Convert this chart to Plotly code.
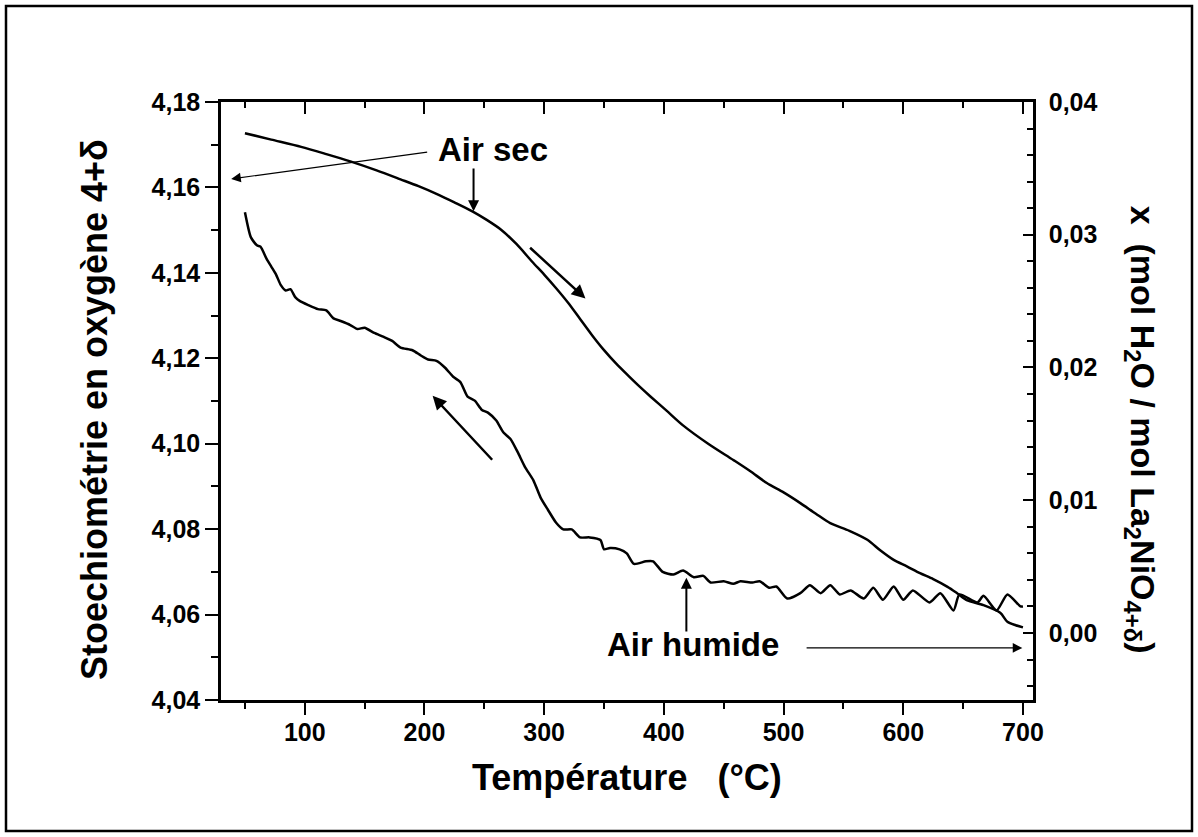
import plotly.graph_objects as go

# ---------------- data ----------------
# Air sec : oxygen stoichiometry 4+delta (left axis) vs temperature
T_sec = [50, 72, 97, 118, 138, 160, 180, 195, 210, 225, 240, 252, 264, 277, 290, 300,
         310, 320, 330, 340, 350, 360, 370, 380, 389, 402, 416, 437, 458, 472, 486,
         500, 514, 527, 539, 555, 570, 581, 592, 603, 614, 625, 637, 645, 653, 667,
         681, 687, 694, 700]
delta_sec = [4.1727, 4.1712, 4.1695, 4.1678, 4.1661, 4.1640, 4.1619, 4.1603, 4.1585,
             4.1565, 4.1544, 4.1524, 4.1501, 4.1467, 4.1426, 4.1396, 4.1364, 4.1330,
             4.1292, 4.1254, 4.1219, 4.1188, 4.1160, 4.1133, 4.1110, 4.1078, 4.1043,
             4.1000, 4.0962, 4.0936, 4.0908, 4.0886, 4.0861, 4.0836, 4.0814, 4.0796,
             4.0775, 4.0750, 4.0728, 4.0713, 4.0697, 4.0683, 4.0665, 4.0650, 4.0634,
             4.0622, 4.0604, 4.0583, 4.0575, 4.0570]

# Air humide : x (mol H2O / mol La2NiO4+delta) (right axis) vs temperature
T_hum = [50, 55, 60, 63, 68, 72, 76, 80, 84, 88, 92, 96, 103, 111, 118, 124, 130, 138,
         144, 150, 158, 166, 173, 180, 190, 197, 203, 210, 217, 224, 230, 236, 242, 248,
         253, 260, 266, 272, 278, 284, 291, 297, 303, 310, 316, 323, 330, 338, 347, 350,
         355, 363, 369, 375, 385, 391, 399, 408, 416, 425, 433, 439, 450, 458, 464, 474,
         480, 488, 494, 503, 514, 522, 531, 539, 547, 556, 567, 575, 583, 592, 600, 608,
         622, 631, 642, 647, 662, 667, 678, 687, 698, 700]
x_hum = [0.0317, 0.0298, 0.0292, 0.0291, 0.0282, 0.0276, 0.0270, 0.0262, 0.0258, 0.0259,
         0.0253, 0.0250, 0.0247, 0.0244, 0.0243, 0.0237, 0.0235, 0.0232, 0.0229, 0.0230,
         0.0226, 0.0223, 0.0220, 0.0215, 0.0213, 0.0209, 0.0206, 0.0205, 0.0200, 0.0193,
         0.0189, 0.0178, 0.0175, 0.0168, 0.0166, 0.0160, 0.0151, 0.0146, 0.0136, 0.0125,
         0.0115, 0.0102, 0.0093, 0.0083, 0.0078, 0.0078, 0.0072, 0.0072, 0.0070, 0.0063,
         0.0064, 0.0063, 0.0060, 0.0052, 0.0054, 0.0054, 0.0046, 0.0044, 0.0047, 0.0042,
         0.0043, 0.0038, 0.0039, 0.0037, 0.0039, 0.0038, 0.0039, 0.0034, 0.0035, 0.0026,
         0.0030, 0.0036, 0.0030, 0.0036, 0.0029, 0.0032, 0.0026, 0.0034, 0.0025, 0.0035,
         0.0025, 0.0032, 0.0023, 0.0030, 0.0017, 0.0029, 0.0023, 0.0028, 0.0017, 0.0029,
         0.0020, 0.0020]

# axis settings
x_range = [30, 708.4]
y_left_range = [4.04, 4.18]
y_right_range = [-0.00505, 0.04]

FONT = "Liberation Sans, Arial, sans-serif"
BLACK = "#000000"

fig = go.Figure()
fig.add_trace(go.Scatter(x=T_sec, y=delta_sec, mode="lines",
                         line=dict(color=BLACK, width=2.5, shape="spline", smoothing=0.8),
                         xaxis="x", yaxis="y", showlegend=False, hoverinfo="skip"))
fig.add_trace(go.Scatter(x=T_hum, y=x_hum, mode="lines",
                         line=dict(color=BLACK, width=2.5, shape="spline", smoothing=0.6),
                         xaxis="x", yaxis="y2", showlegend=False, hoverinfo="skip"))
# empty trace so that the top (inside-tick) axis is drawn
fig.add_trace(go.Scatter(x=[None], y=[None], xaxis="x2", yaxis="y",
                         showlegend=False, hoverinfo="skip"))

tickfont = dict(family=FONT, size=25, color=BLACK, weight="bold")

fig.update_layout(
    width=1198, height=837,
    margin=dict(l=221, r=165, t=102, b=137),
    paper_bgcolor="white", plot_bgcolor="white",
    separators=", ",
    showlegend=False,
    xaxis=dict(range=x_range, tick0=0, dtick=100, ticks="outside", ticklen=12,
               tickwidth=2, tickcolor=BLACK, showline=True, linewidth=2.5,
               linecolor=BLACK, showgrid=False, zeroline=False, tickfont=tickfont,
               ticklabelstandoff=-4,
               minor=dict(dtick=50, tick0=0, ticks="outside", ticklen=6,
                          tickwidth=2, tickcolor=BLACK, showgrid=False)),
    xaxis2=dict(range=x_range, overlaying="x", side="top", anchor="y",
                tick0=0, dtick=100, ticks="inside", ticklen=12, tickwidth=2,
                tickcolor=BLACK, showline=True, linewidth=2.5, linecolor=BLACK,
                showticklabels=False, showgrid=False, zeroline=False,
                minor=dict(dtick=50, tick0=0, ticks="inside", ticklen=6,
                           tickwidth=2, tickcolor=BLACK, showgrid=False)),
    yaxis=dict(range=y_left_range, tick0=4.04, dtick=0.02, tickformat=".2f",
               ticks="outside", ticklen=13, tickwidth=2, tickcolor=BLACK,
               showline=True, linewidth=2.5, linecolor=BLACK, showgrid=False,
               zeroline=False, tickfont=tickfont,
               minor=dict(dtick=0.01, tick0=4.04, ticks="outside", ticklen=7,
                          tickwidth=2, tickcolor=BLACK, showgrid=False)),
    yaxis2=dict(range=y_right_range, overlaying="y", side="right", anchor="x",
                tick0=0, dtick=0.01, tickformat=".2f", ticks="inside", ticklen=10,
                tickwidth=2, tickcolor=BLACK, showline=True, linewidth=2.5,
                linecolor=BLACK, showgrid=False, zeroline=False, tickfont=tickfont,
                ticklabelstandoff=8,
                minor=dict(dtick=0.002, tick0=0, ticks="inside", ticklen=6,
                           tickwidth=2, tickcolor=BLACK, showgrid=False)),
)

ann_font = dict(family=FONT, size=33, color=BLACK, weight="bold")
title_font = dict(family=FONT, size=36, color=BLACK, weight="bold")
rtitle_font = dict(family=FONT, size=34, color=BLACK, weight="bold")

annotations = [
    # axis titles
    dict(text="Température\u00a0\u00a0\u00a0(°C)", xref="paper", yref="paper",
         x=0.5, y=-0.13, xanchor="center", yanchor="middle", showarrow=False,
         font=title_font),
    dict(text="Stoechiométrie en oxygène 4+δ", xref="paper", yref="paper",
         x=-0.155, y=0.485, xanchor="center", yanchor="middle", textangle=-90,
         showarrow=False, font=title_font),
    dict(text="x\u00a0\u00a0(mol H<sub>2</sub>O / mol La<sub>2</sub>NiO<sub>4+δ</sub>)",
         xref="paper", yref="paper", x=1.1318, y=0.452, xanchor="center",
         yanchor="middle", textangle=90, showarrow=False, font=rtitle_font),
    # labels
    dict(text="Air sec", xref="x", yref="y", x=257, y=4.1688, xanchor="center",
         yanchor="middle", showarrow=False, font=ann_font),
    dict(text="Air humide", xref="x", yref="y", x=424.6, y=4.0529, xanchor="center",
         yanchor="middle", showarrow=False, font=ann_font),
]

# arrows: (tail T, tail y, head T, head y, width)
arrows = [
    (203.5, 4.1683, 38.5, 4.1620, 1.2),   # Air sec -> left axis
    (241.0, 4.1648, 241.0, 4.1544, 2.0),  # Air sec -> curve
    (287.0, 4.1462, 334.5, 4.1340, 2.5),  # heating direction
    (257.7, 4.0959, 206.8, 4.1112, 2.5),  # cooling direction
    (418.8, 4.0557, 418.8, 4.0686, 2.0),  # Air humide -> curve
    (518.0, 4.0522, 699.5, 4.0522, 1.2),  # Air humide -> right axis
]
for tx, ty, hx, hy, w in arrows:
    annotations.append(dict(x=hx, y=hy, ax=tx, ay=ty, xref="x", yref="y",
                            axref="x", ayref="y", text="", showarrow=True,
                            arrowhead=2, arrowsize=1.6 if w < 1.5 else 1.1,
                            arrowwidth=w, arrowcolor=BLACK, standoff=0))
fig.update_layout(annotations=annotations)

# outer frame around the whole figure
fig.add_shape(type="rect", xref="paper", yref="paper",
              x0=(6 - 221) / 812, x1=(1192 - 221) / 812,
              y0=(700 - 831) / 598, y1=(700 - 6) / 598,
              line=dict(color=BLACK, width=2.5), fillcolor="rgba(0,0,0,0)", layer="above")

fig.write_html("out.html")
